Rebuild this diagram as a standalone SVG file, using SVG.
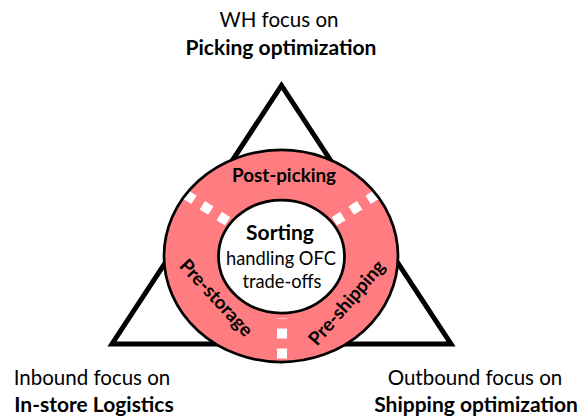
<svg xmlns="http://www.w3.org/2000/svg" width="581" height="417" viewBox="0 0 581 417">
<style>
.t{font-family:Lato,"Open Sans","Liberation Sans",sans-serif;fill:#000;text-anchor:middle}
.r{font-size:20.5px}
.b{font-size:21px;font-weight:bold}
.i{font-size:18.3px}
.s{font-size:18.8px;font-weight:bold}
.dash{stroke:#fff;stroke-width:10;stroke-dasharray:10 10;fill:none}
</style>
<rect width="581" height="417" fill="#fff"/>
<g id="triangle">
<polygon points="281.5,85.5 451,344 112,344" fill="none" stroke="#000" stroke-width="5"/>
</g>
<g id="ring">
<ellipse cx="281" cy="256" rx="117" ry="106" fill="#FF7C80"/>
</g>
<g id="connectors">
<line class="dash" x1="185.5" y1="194.5" x2="228" y2="221.6"/>
<line class="dash" x1="376.5" y1="194.5" x2="334" y2="221.6"/>
<line class="dash" x1="282" y1="358.5" x2="282" y2="318"/>
</g>
<g id="ring-edge">
<ellipse cx="281" cy="256" rx="117" ry="106" fill="none" stroke="#000" stroke-width="2.75"/>
</g>
<g id="core">
<ellipse cx="281.5" cy="256.5" rx="63" ry="56.5" fill="#fff" stroke="#000" stroke-width="2.75"/>
<text class="t" x="280" y="240" style="font-size:21px;font-weight:bold">Sorting</text>
<text class="t i" x="281" y="265">handling OFC</text>
<text class="t i" x="282" y="288">trade-offs</text>
</g>
<g id="post-picking">
<text class="t s" x="284" y="182">Post-picking</text>
</g>
<g id="pre-storage">
<text class="t s" transform="translate(216,298) rotate(47)" x="0" y="6">Pre-storage</text>
</g>
<g id="pre-shipping">
<text class="t s" transform="translate(347,303) rotate(-49)" x="0" y="6">Pre-shipping</text>
</g>
<g id="wh">
<text class="t r" x="279" y="27">WH focus on</text>
<text class="t b" x="281" y="55">Picking optimization</text>
</g>
<g id="inbound">
<text class="t r" x="92" y="385">Inbound focus on</text>
<text class="t b" x="94" y="412">In-store Logistics</text>
</g>
<g id="outbound">
<text class="t r" x="475" y="385">Outbound focus on</text>
<text class="t b" x="476" y="412">Shipping optimization</text>
</g>
</svg>
